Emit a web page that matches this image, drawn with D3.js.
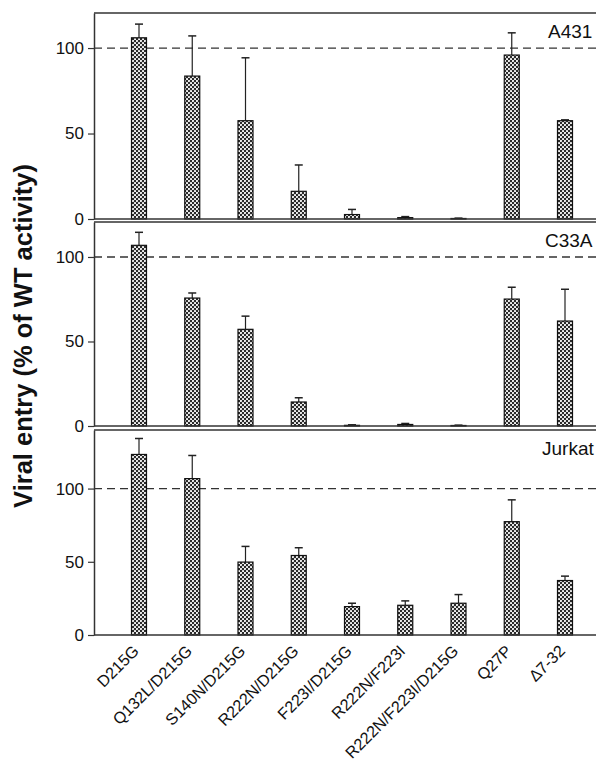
<!DOCTYPE html>
<html><head><meta charset="utf-8">
<script src="https://cdn.jsdelivr.net/npm/d3@7"></script>
<style>body{margin:0;background:#fff}svg{display:block}</style>
</head><body>
<svg id="c" width="596" height="766"></svg>
<script>
const categories = ["D215G","Q132L/D215G","S140N/D215G","R222N/D215G","F223I/D215G","R222N/F223I","R222N/F223I/D215G","Q27P","\u03947-32"];
const cellLines = ["A431","C33A","Jurkat"];
const a431Mean = [106, 83.6, 57.5, 16.2, 2.6, 0.8, 0.3, 95.9, 57.5];
const a431Err  = [8, 23.5, 36.8, 15.4, 3.0, 0.6, 0.2, 13, 0.5];
const c33aMean = [106.9, 75.7, 57.2, 14.2, 0.4, 0.9, 0.3, 75.1, 62.1];
const c33aErr  = [7.7, 3, 7.8, 2.5, 0.3, 0.6, 0.2, 7, 18.8];
const jurkatMean = [123.3, 106.8, 49.8, 54.3, 19.4, 20.3, 21.7, 77.4, 37.2];
const jurkatErr  = [10.9, 15.8, 10.7, 5.3, 2.3, 3, 5.9, 14.9, 3];
const yTicks = [0, 50, 100];
const yMax = [120.5, 120.7, 140];
const refLine = 100;
const yTitle = "Viral entry (% of WT activity)";

const series = [[a431Mean,a431Err],[c33aMean,c33aErr],[jurkatMean,jurkatErr]];
const panels = [{top:13,bottom:219},{top:222,bottom:426},{top:430,bottom:635}];
const axisX = 94, rightX = 610;
const font = "Liberation Sans, Arial, sans-serif";

const svg = d3.select("#c");
const defs = svg.append("defs");
const pat = defs.append("pattern").attr("id","hatch").attr("patternUnits","userSpaceOnUse")
  .attr("width",4).attr("height",4);
pat.append("rect").attr("width",4).attr("height",4).attr("fill","#2a2a2a");
pat.append("circle").attr("cx",1).attr("cy",1).attr("r",1.05).attr("fill","#fff");
pat.append("circle").attr("cx",3).attr("cy",3).attr("r",1.05).attr("fill","#fff");

const x = d3.scalePoint().domain(categories).range([139,565]);
const bw = 15;

panels.forEach((p,i)=>{
  const y = d3.scaleLinear().domain([0,yMax[i]]).range([p.bottom,p.top]);
  const g = svg.append("g");
  g.append("line").attr("x1",axisX).attr("x2",rightX).attr("y1",p.top).attr("y2",p.top)
    .attr("stroke","#333").attr("stroke-width",1.5);
  g.append("line").attr("x1",axisX).attr("x2",rightX).attr("y1",y(refLine)).attr("y2",y(refLine))
    .attr("stroke","#333").attr("stroke-width",1.3).attr("stroke-dasharray","8,5");
  const [mean,err] = series[i];
  const bars = g.selectAll(".b").data(categories).enter().append("g");
  bars.append("line").attr("x1",d=>x(d)).attr("x2",d=>x(d))
    .attr("y1",(d,j)=>y(mean[j])).attr("y2",(d,j)=>y(mean[j]+err[j]))
    .attr("stroke","#222").attr("stroke-width",1.2);
  bars.append("line").attr("x1",d=>x(d)-4).attr("x2",d=>x(d)+4)
    .attr("y1",(d,j)=>y(mean[j]+err[j])).attr("y2",(d,j)=>y(mean[j]+err[j]))
    .attr("stroke","#222").attr("stroke-width",1.5);
  bars.append("rect").attr("x",d=>x(d)-bw/2).attr("width",bw)
    .attr("y",(d,j)=>y(mean[j])).attr("height",(d,j)=>y(0)-y(mean[j]))
    .attr("fill","url(#hatch)").attr("stroke","#111").attr("stroke-width",1.2);
  const ax = g.append("g").attr("transform",`translate(${axisX},0)`)
    .call(d3.axisLeft(y).tickValues(yTicks).tickSize(6).tickPadding(4).tickSizeOuter(0));
  ax.select(".domain").attr("stroke","#333").attr("stroke-width",1.5);
  ax.selectAll(".tick line").attr("stroke","#333").attr("stroke-width",1.2);
  ax.selectAll("text").attr("font-family",font).attr("font-size",17).attr("fill","#111");
  g.append("line").attr("x1",axisX).attr("x2",rightX).attr("y1",p.bottom).attr("y2",p.bottom)
    .attr("stroke","#333").attr("stroke-width",1.5);
  g.append("text").attr("x",[548,545,542][i]).attr("y",y(yMax[i]) + 25)
    .attr("font-family",font).attr("font-size",19)
    .attr("fill","#111").text(cellLines[i]);
});

svg.append("g").selectAll("text").data(categories).enter().append("text")
  .attr("transform",d=>`translate(${x(d)+1},${652}) rotate(-45)`)
  .attr("text-anchor","end")
  .attr("font-family",font).attr("font-size",16.2).attr("fill","#111")
  .text(d=>d);

svg.append("text").attr("transform","translate(32,336) rotate(-90)")
  .attr("text-anchor","middle").attr("font-family",font)
  .attr("font-weight","bold").attr("font-size",25.5).attr("fill","#111").text(yTitle);
</script>
</body></html>
